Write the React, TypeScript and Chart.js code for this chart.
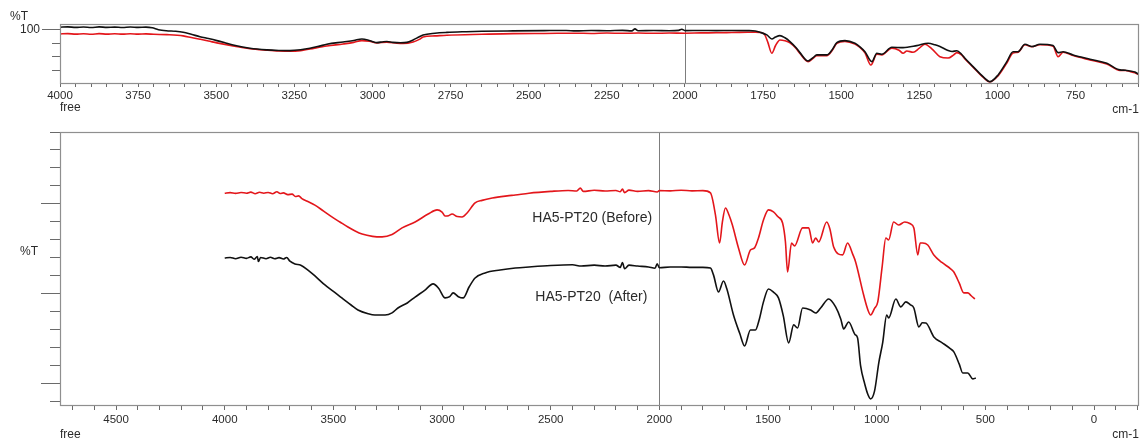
import { useEffect, useRef } from "react";
import { Chart, registerables } from "chart.js";

Chart.register(...registerables);

// ---------- DATA (wavenumber cm-1, %T) ----------
// Top panel: overlaid spectra
const topAfter: [number, number][] = [
  [4000,102.0],[3975,102.3],[3950,101.9],[3925,102.2],[3900,101.8],[3875,102.3],[3850,101.9],[3825,102.1],[3800,101.8],[3775,102.2],[3750,101.9],[3725,102.1],[3705,101.6],[3685,100.2],[3660,99.4],[3630,99.0],[3606,98.3],[3580,96.8],[3552,95.0],[3525,93.6],[3498,92.1],[3470,90.4],[3446,88.9],[3420,87.6],[3392,86.4],[3338,85.2],[3300,84.8],[3264,84.7],[3230,85.3],[3200,86.4],[3170,88.0],[3146,89.4],[3094,91.1],[3060,92.2],[3034,93.3],[3015,92.6],[2995,91.0],[2986,90.6],[2965,91.3],[2954,91.4],[2935,90.8],[2910,90.5],[2890,90.8],[2870,92.6],[2850,95.0],[2838,96.3],[2800,97.6],[2762,98.2],[2700,98.7],[2650,99.0],[2550,99.3],[2450,99.5],[2380,99.6],[2350,99.3],[2300,99.6],[2250,99.4],[2200,99.7],[2170,99.3],[2160,100.8],[2150,99.4],[2100,99.6],[2050,99.4],[2020,99.7],[2010,100.5],[2000,99.5],[1950,99.6],[1900,99.5],[1850,99.6],[1800,99.5],[1775,99.2],[1760,98.3],[1738,96.3],[1722,93.3],[1710,94.8],[1696,95.8],[1680,94.2],[1664,91.4],[1645,87.0],[1632,83.2],[1606,77.0],[1590,79.5],[1578,81.5],[1546,81.5],[1530,85.0],[1514,90.6],[1488,92.1],[1456,90.1],[1440,87.5],[1424,83.9],[1402,76.5],[1386,82.7],[1370,82.0],[1338,87.2],[1302,86.9],[1258,88.4],[1222,90.1],[1200,89.0],[1184,87.7],[1160,85.0],[1145,84.0],[1130,84.6],[1115,82.0],[1104,79.0],[1078,72.8],[1046,65.4],[1024,61.7],[998,66.7],[970,76.5],[950,83.9],[934,83.9],[912,89.4],[890,87.7],[864,89.4],[822,88.4],[806,83.2],[790,83.9],[758,81.5],[704,78.3],[650,75.3],[608,70.4],[590,70.2],[576,69.6],[560,68.8],[550,67.4]
];
const topBefore: [number, number][] = [
  [4000,97.0],[3975,97.3],[3950,96.9],[3925,97.2],[3900,96.8],[3875,97.3],[3850,96.9],[3825,97.2],[3800,96.9],[3775,97.2],[3750,96.9],[3725,97.1],[3700,96.8],[3658,96.5],[3606,95.6],[3580,94.4],[3552,93.1],[3525,91.8],[3498,90.4],[3446,88.1],[3392,86.1],[3338,85.0],[3300,84.4],[3264,84.2],[3230,84.7],[3200,85.9],[3146,88.1],[3094,89.6],[3060,90.8],[3034,92.1],[3010,91.6],[2986,90.4],[2954,91.0],[2922,90.2],[2902,90.0],[2870,91.1],[2850,93.0],[2838,94.8],[2800,95.6],[2762,96.1],[2650,96.8],[2550,97.3],[2450,97.4],[2350,97.6],[2300,97.4],[2250,97.7],[2200,97.5],[2150,97.7],[2100,97.5],[2050,97.7],[2000,97.6],[1950,97.8],[1900,97.9],[1850,98.1],[1800,98.3],[1775,98.4],[1760,98.2],[1745,96.5],[1735,91.0],[1722,82.7],[1710,88.5],[1696,92.6],[1680,92.0],[1664,90.5],[1645,86.5],[1632,82.5],[1606,76.5],[1590,79.0],[1578,81.0],[1546,81.0],[1530,84.5],[1514,90.0],[1488,91.5],[1456,89.5],[1440,87.0],[1424,83.0],[1405,74.0],[1386,82.0],[1370,81.5],[1338,86.5],[1315,85.0],[1302,82.7],[1290,84.4],[1270,83.5],[1250,86.5],[1232,89.4],[1210,86.0],[1184,80.2],[1158,79.2],[1140,81.5],[1130,83.2],[1115,81.5],[1104,78.5],[1078,72.5],[1046,65.0],[1024,61.5],[998,66.0],[970,75.5],[950,83.0],[934,83.5],[912,89.0],[890,87.5],[864,89.0],[822,88.0],[806,80.2],[790,83.5],[758,81.0],[704,77.8],[650,74.8],[608,70.0],[590,70.0],[576,69.2],[560,68.2],[550,67.0]
];

// Bottom panel: offset spectra (arbitrary %T units, one unit per minor tick)
const bottomBefore: [number, number][] = [
  [4000,11.6],[3975,11.63],[3950,11.59],[3925,11.64],[3900,11.6],[3880,11.66],[3860,11.57],[3840,11.65],[3820,11.6],[3800,11.64],[3780,11.57],[3760,11.68],[3745,11.58],[3730,11.62],[3710,11.52],[3690,11.55],[3675,11.42],[3660,11.45],[3645,11.3],[3620,11.15],[3585,10.94],[3545,10.6],[3507,10.28],[3470,10.0],[3433,9.72],[3400,9.5],[3368,9.33],[3320,9.2],[3276,9.17],[3230,9.3],[3184,9.67],[3124,10.0],[3064,10.44],[3023,10.67],[3000,10.55],[2986,10.33],[2970,10.35],[2954,10.44],[2930,10.3],[2908,10.28],[2885,10.5],[2848,11.06],[2816,11.2],[2769,11.33],[2700,11.45],[2663,11.5],[2600,11.6],[2500,11.7],[2420,11.75],[2380,11.72],[2364,11.88],[2350,11.7],[2300,11.76],[2250,11.72],[2200,11.75],[2180,11.68],[2170,11.83],[2160,11.63],[2140,11.77],[2100,11.7],[2050,11.74],[2010,11.67],[2000,11.74],[1950,11.73],[1900,11.76],[1850,11.73],[1800,11.74],[1765,11.62],[1742,10.4],[1723,8.83],[1710,10.0],[1696,10.78],[1680,10.4],[1664,9.83],[1636,8.56],[1608,7.61],[1581,8.44],[1562,8.56],[1544,9.11],[1521,10.11],[1498,10.67],[1475,10.56],[1455,10.3],[1433,9.94],[1420,8.9],[1410,7.22],[1392,8.83],[1378,8.67],[1341,9.67],[1313,9.67],[1295,8.83],[1281,9.11],[1267,8.89],[1230,10.0],[1215,9.6],[1198,8.61],[1157,8.17],[1134,8.83],[1110,8.2],[1097,7.78],[1060,5.94],[1040,5.1],[1028,4.83],[1010,5.2],[995,5.56],[975,7.5],[958,9.11],[945,9.0],[922,10.0],[899,9.83],[871,10.0],[845,9.9],[829,9.67],[811,8.17],[800,8.83],[788,8.83],[765,8.72],[737,8.17],[700,7.75],[660,7.4],[645,7.22],[620,6.6],[599,6.06],[581,6.06],[565,5.9],[548,5.72]
];
const bottomAfter: [number, number][] = [
  [4000,8.0],[3975,8.03],[3950,7.96],[3925,8.04],[3900,7.98],[3880,8.06],[3865,7.93],[3850,8.08],[3845,7.8],[3835,8.03],[3810,7.96],[3790,8.04],[3770,7.96],[3750,8.02],[3730,7.94],[3715,8.03],[3700,7.82],[3677,7.67],[3650,7.6],[3617,7.33],[3580,6.95],[3539,6.5],[3500,6.15],[3461,5.78],[3420,5.4],[3387,5.11],[3340,4.9],[3309,4.83],[3262,4.83],[3230,4.95],[3203,5.22],[3160,5.5],[3124,5.83],[3080,6.2],[3041,6.56],[3015,6.3],[2986,5.78],[2965,5.85],[2949,6.06],[2925,5.85],[2903,5.78],[2875,6.4],[2848,6.89],[2802,7.17],[2733,7.33],[2663,7.44],[2600,7.5],[2500,7.58],[2400,7.62],[2360,7.55],[2300,7.6],[2250,7.55],[2200,7.6],[2180,7.48],[2170,7.75],[2160,7.4],[2140,7.6],[2100,7.55],[2050,7.5],[2020,7.43],[2010,7.68],[2000,7.46],[1950,7.5],[1900,7.5],[1850,7.48],[1800,7.48],[1765,7.44],[1751,7.06],[1728,6.11],[1705,6.72],[1690,6.3],[1659,4.83],[1630,3.8],[1608,3.11],[1581,4.0],[1558,4.0],[1540,4.6],[1521,5.56],[1498,6.28],[1475,6.1],[1452,5.78],[1430,4.8],[1405,3.28],[1382,4.28],[1364,4.11],[1341,5.22],[1304,5.11],[1281,4.94],[1258,5.22],[1221,5.72],[1189,5.28],[1165,4.6],[1152,4.06],[1129,4.44],[1100,3.75],[1088,3.56],[1074,2.0],[1055,1.0],[1040,0.4],[1028,0.17],[1010,0.6],[990,2.2],[972,3.33],[954,4.83],[945,4.67],[912,5.72],[889,5.28],[866,5.56],[845,5.4],[829,5.22],[806,4.17],[790,4.4],[774,4.39],[737,3.61],[700,3.3],[660,2.95],[645,2.78],[620,2.1],[604,1.61],[581,1.61],[558,1.28],[544,1.33]
];

const seriesNames = ["HA5-PT20 (Before)", "HA5-PT20  (After)"];
const cursorWavenumber = 2000;
const topYLabels = [100];
const topYMinor = [70, 80, 90, 100];
const bottomYMajor = [1, 6, 11];
const bottomYMinor = Array.from({ length: 16 }, (_, i) => i);
const topXTicks = Array.from({ length: 70 }, (_, i) => 4000 - i * 50).filter((v) => v >= 550);
const bottomXTicks = Array.from({ length: 50 }, (_, i) => 4700 - i * 100);

// ---------- STYLE ----------
const RED = "#e3161b";
const BLACK = "#111111";
const TEXT = "#2b2b2b";
const TICK = "#6a6a6a";
const FRAME = "#8f8f8f";
const FONT = '"Liberation Sans", Arial, sans-serif';

const annotate = {
  id: "annotate",
  beforeDatasetsDraw(chart: any, _a: any, opts: any) {
    const { ctx, chartArea: ca, scales } = chart;
    const x = Math.round(scales.x.getPixelForValue(opts.cursor)) + 0.5;
    ctx.save();
    ctx.strokeStyle = "#7d7d7d";
    ctx.lineWidth = 1;
    ctx.beginPath();
    ctx.moveTo(x, ca.top);
    ctx.lineTo(x, ca.bottom);
    ctx.stroke();
    ctx.restore();
  },
  afterDraw(chart: any, _a: any, opts: any) {
    const { ctx, chartArea: ca, scales } = chart;
    ctx.save();
    ctx.strokeStyle = FRAME;
    ctx.lineWidth = 1.2;
    ctx.strokeRect(Math.round(ca.left) + 0.5, Math.round(ca.top) + 0.5, Math.round(ca.right - ca.left) - 1, Math.round(ca.bottom - ca.top));
    ctx.fillStyle = TEXT;
    ctx.textBaseline = "middle";
    for (const t of opts.texts || []) {
      ctx.font = `${t.size || 12}px ${FONT}`;
      ctx.textAlign = t.align || "left";
      const px = t.wn !== undefined ? scales.x.getPixelForValue(t.wn) : t.x;
      const py = t.v !== undefined ? scales.y.getPixelForValue(t.v) : t.y;
      ctx.fillText(t.text, px, py);
    }
    ctx.restore();
  },
};

function setTicks(list: number[]) {
  return (s: any) => {
    s.ticks = list.map((value) => ({ value }));
  };
}

function lineDataset(label: string, pts: [number, number][], color: string, width: number) {
  return {
    label,
    data: pts.map(([x, y]) => ({ x, y })),
    borderColor: color,
    borderWidth: width,
    pointRadius: 0,
    cubicInterpolationMode: "monotone",
  };
}

function topConfig(): any {
  const yMin = 60.7, yMax = 104.4;
  return {
    type: "line",
    data: {
      datasets: [
        lineDataset(seriesNames[1], topAfter, BLACK, 1.6),
        lineDataset(seriesNames[0], topBefore, RED, 1.6),
      ],
    },
    plugins: [annotate],
    options: {
      animation: false,
      responsive: false,
      devicePixelRatio: 1,
      layout: { padding: { top: 24, right: 6, left: 0, bottom: 0 } },
      plugins: {
        legend: { display: false },
        tooltip: { enabled: false },
        annotate: {
          cursor: cursorWavenumber,
          texts: [
            { text: "%T", x: 10, y: 17, size: 12 },
            { text: "free", x: 60, y: 108, size: 12 },
            { text: "cm-1", x: 1139, y: 110, size: 12, align: "right" },
          ],
        },
      },
      scales: {
        x: {
          type: "linear", reverse: true, min: 547, max: 4000,
          afterBuildTicks: setTicks(topXTicks),
          afterFit: (s: any) => { s.height = 35; },
          ticks: { autoSkip: false, maxRotation: 0, padding: 2, color: TEXT, font: { size: 11.5, family: FONT }, callback: (v: any) => (Number(v) % 250 === 0 ? String(v) : "") },
          grid: { drawOnChartArea: false, tickLength: 4, color: TICK },
          border: { display: false },
        },
        y: {
          type: "linear", position: "left", min: yMin, max: yMax, weight: 0,
          afterBuildTicks: setTicks(topYMinor),
          afterFit: (s: any) => { s.width = 0; },
          ticks: { display: false },
          grid: { drawOnChartArea: false, tickLength: 8, color: TICK },
          border: { display: false },
        },
        yMajor: {
          type: "linear", position: "left", min: yMin, max: yMax, weight: 1,
          afterBuildTicks: setTicks(topYLabels),
          afterFit: (s: any) => { s.width = 60; },
          ticks: { padding: 2, color: TEXT, font: { size: 12, family: FONT } },
          grid: { drawOnChartArea: false, tickLength: 18, color: TICK },
          border: { display: false },
        },
      },
    },
  };
}

function bottomConfig(): any {
  const yMin = -0.17, yMax = 15.0;
  return {
    type: "line",
    data: {
      datasets: [
        lineDataset(seriesNames[1], bottomAfter, BLACK, 1.6),
        lineDataset(seriesNames[0], bottomBefore, RED, 1.6),
      ],
    },
    plugins: [annotate],
    options: {
      animation: false,
      responsive: false,
      devicePixelRatio: 1,
      layout: { padding: { top: 14, right: 6, left: 0, bottom: 0 } },
      plugins: {
        legend: { display: false },
        tooltip: { enabled: false },
        annotate: {
          cursor: cursorWavenumber,
          texts: [
            { text: "%T", x: 20, y: 134, size: 12 },
            { text: "free", x: 60, y: 317, size: 12 },
            { text: "cm-1", x: 1139, y: 317, size: 12, align: "right" },
            { text: seriesNames[0], wn: 2309, v: 10.22, size: 14, align: "center" },
            { text: seriesNames[1], wn: 2313, v: 5.83, size: 14, align: "center" },
          ],
        },
      },
      scales: {
        x: {
          type: "linear", reverse: true, min: -207, max: 4758,
          afterBuildTicks: setTicks(bottomXTicks),
          afterFit: (s: any) => { s.height = 40; },
          ticks: { autoSkip: false, maxRotation: 0, padding: 3, color: TEXT, font: { size: 11.5, family: FONT }, callback: (v: any) => (Number(v) % 500 === 0 ? String(v) : "") },
          grid: { drawOnChartArea: false, tickLength: 5, color: TICK },
          border: { display: false },
        },
        y: {
          type: "linear", position: "left", min: yMin, max: yMax, weight: 0,
          afterBuildTicks: setTicks(bottomYMinor),
          afterFit: (s: any) => { s.width = 0; },
          ticks: { display: false },
          grid: { drawOnChartArea: false, tickLength: 10, color: TICK },
          border: { display: false },
        },
        yMajor: {
          type: "linear", position: "left", min: yMin, max: yMax, weight: 1,
          afterBuildTicks: setTicks(bottomYMajor),
          afterFit: (s: any) => { s.width = 60; },
          ticks: { display: false },
          grid: { drawOnChartArea: false, tickLength: 19, color: TICK },
          border: { display: false },
        },
      },
    },
  };
}

export default function App() {
  const topRef = useRef<HTMLCanvasElement>(null);
  const botRef = useRef<HTMLCanvasElement>(null);
  useEffect(() => {
    const c1 = new Chart(topRef.current as HTMLCanvasElement, topConfig());
    const c2 = new Chart(botRef.current as HTMLCanvasElement, bottomConfig());
    return () => {
      c1.destroy();
      c2.destroy();
    };
  }, []);
  return (
    <div style={{ position: "fixed", left: 0, top: 0, width: 1145, height: 445, background: "#fff" }}>
      <canvas ref={topRef} width={1145} height={118} style={{ position: "absolute", left: 0, top: 0, width: 1145, height: 118 }} />
      <canvas ref={botRef} width={1145} height={327} style={{ position: "absolute", left: 0, top: 118, width: 1145, height: 327 }} />
    </div>
  );
}
